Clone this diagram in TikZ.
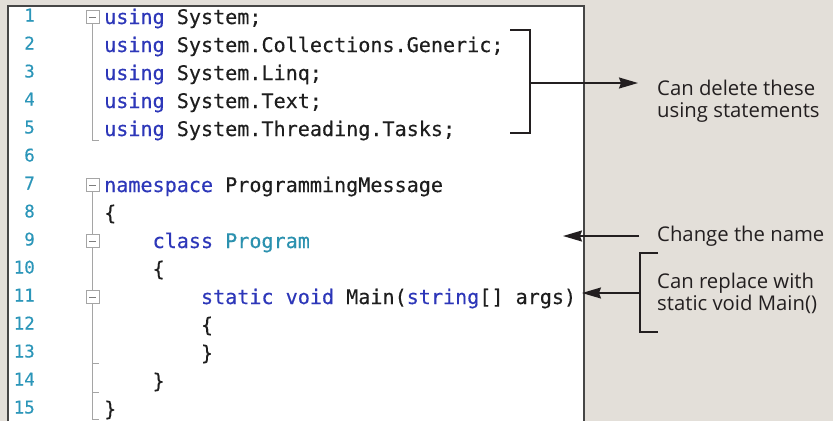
\documentclass[tikz,border=0pt]{standalone}
\usepackage{fontspec}
\usetikzlibrary{arrows.meta}
\newfontfamily\codefam[FakeBold=0.35]{DejaVu Sans Mono}
\newfontfamily\notefam{Open Sans}
\definecolor{bg}{RGB}{227,223,217}
\definecolor{kwblue}{RGB}{45,55,185}
\definecolor{tyteal}{RGB}{43,145,175}
\definecolor{numteal}{RGB}{43,150,185}
\definecolor{ink}{RGB}{35,31,32}
\definecolor{codeink}{RGB}{30,30,30}
\definecolor{guide}{RGB}{165,165,165}
\definecolor{panelborder}{RGB}{70,70,70}
\newcommand\kw[1]{\textcolor{kwblue}{#1}}
\newcommand\ty[1]{\textcolor{tyteal}{#1}}

\begin{document}
\begin{tikzpicture}[x=1pt,y=-1pt,
  code/.style={anchor=base west, inner sep=0pt, text=codeink,
    font=\codefam\fontsize{20.1}{24}\selectfont},
  lnum/.style={anchor=base east, inner sep=0pt, text=numteal,
    font=\codefam\fontsize{17.5}{20}\selectfont},
  foldbox/.style={draw=guide, fill=white, line width=1pt, minimum size=13pt,
    inner sep=0pt,
    path picture={\draw[guide!75!black, line width=1pt]
      ([xshift=-3.5pt]path picture bounding box.center) --
      ([xshift=3.5pt]path picture bounding box.center);}},
  guideline/.style={draw=guide, line width=1pt},
  note/.style={anchor=base west, inner sep=0pt, text=ink,
    font=\notefam\fontsize{20.3}{23}\selectfont},
  brk/.style={draw=ink, line width=2.2pt},
  arr/.style={draw=ink, line width=1.6pt,
    -{Stealth[length=19pt,width=11pt,inset=2pt]}}]

% page background and bounds
\fill[bg] (0,0) rectangle (833,421);
\useasboundingbox (0,0) rectangle (833,421);

% editor panel
\fill[white] (8,6) rectangle (584,421);
\draw[panelborder, line width=1.3pt] (8,421) -- (8,6) -- (584,6) -- (584,421);

% line numbers
\foreach \k in {1,...,15}
  \node[lnum] (n\k) at (35,{21.5+28*(\k-1)}) {\k};

% outlining guides
\node[foldbox] (f1) at (92.5,17) {};
\node[foldbox] (f7) at (92.5,185) {};
\node[foldbox] (f9) at (92.5,241) {};
\node[foldbox] (f11) at (92.5,297) {};
\coordinate (g1end) at (92.5,140);
\coordinate (g1tick) at (98.5,140);
\coordinate (g7end) at (92.5,419);
\coordinate (g7tick) at (98.5,419);
\draw[guideline] (f1.south) -- (g1end) -- (g1tick);
\draw[guideline] (f7.south) -- (f9.north);
\draw[guideline] (f9.south) -- (f11.north);
\draw[guideline] (f11.south) -- (g7end) -- (g7tick);
\draw[guideline] (92.5,363) -- (98.5,363);
\draw[guideline] (92.5,392) -- (98.5,392);

% source code
\node[code] (c1)  at (104,24)  {\kw{using} System;};
\node[code] (c2)  at (104,52)  {\kw{using} System.Collections.Generic;};
\node[code] (c3)  at (104,80)  {\kw{using} System.Linq;};
\node[code] (c4)  at (104,108) {\kw{using} System.Text;};
\node[code] (c5)  at (104,136) {\kw{using} System.Threading.Tasks;};
\node[code] (c7)  at (104,192) {\kw{namespace} ProgrammingMessage};
\node[code] (c8)  at (104,220) {\{};
\node[code] (c9)  at (152.4,248) {\kw{class} \ty{Program}};
\node[code] (c10) at (152.4,276) {\{};
\node[code] (c11) at (200.8,304) {\kw{static} \kw{void} Main(\kw{string}[] args)};
\node[code] (c12) at (200.8,332) {\{};
\node[code] (c13) at (200.8,360) {\}};
\node[code] (c14) at (152.4,388) {\}};
\node[code] (c15) at (104,416) {\}};

% note: using statements
\coordinate (b1top) at (510,30);
\coordinate (b1bot) at (510,133);
\coordinate (b1mid) at (530,83);
\coordinate (b1tip) at (638,83);
\draw[brk] (b1top) -- (530,30) -- (530,133) -- (b1bot);
\draw[arr] (b1mid) -- (b1tip);
\node[note] (t1a) at (657,95)  {Can delete these};
\node[note] (t1b) at (657,117) {using statements};

% note: class name
\coordinate (a2tail) at (639,236);
\coordinate (a2tip) at (563,236);
\draw[arr] (a2tail) -- (a2tip);
\node[note] (t2) at (657,241) {Change the name};

% note: Main signature
\coordinate (b3top) at (658,253);
\coordinate (b3bot) at (658,332);
\coordinate (b3mid) at (640,293);
\coordinate (b3tip) at (582,293);
\draw[brk] (b3top) -- (640,253) -- (640,332) -- (b3bot);
\draw[arr] (b3mid) -- (b3tip);
\node[note] (t3a) at (657,288) {Can replace with};
\node[note] (t3b) at (657,310) {static void Main()};
\end{tikzpicture}
\end{document}
